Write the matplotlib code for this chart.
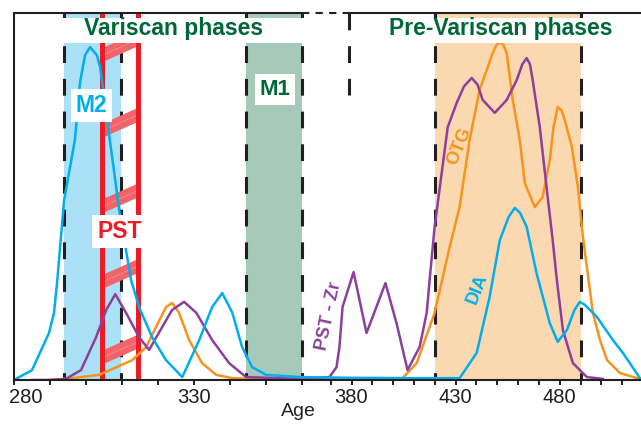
import numpy as np
import matplotlib
matplotlib.use("Agg")
import matplotlib.pyplot as plt
from matplotlib.patches import Rectangle, Polygon
from matplotlib.transforms import ScaledTranslation

plt.rcParams['font.family'] = ['Liberation Sans', 'DejaVu Sans']

# age values (Ma), relative density 0..1
blue_age = [280, 285, 289.7, 291.1, 292, 293.9, 296.9, 298.3, 299.7, 301.1, 303, 303.9, 306.6,
            309.2, 312.5, 314.7, 318.3, 322.2, 326.7, 331.4, 335, 337.8, 340.6, 343.3, 346.1,
            350, 359, 380, 410, 429.5, 431.9, 440.1, 446.3, 451.2, 455.5, 458.4, 461, 464.1,
            468.9, 475.2, 479, 483.4, 487, 489.6, 492, 497.8, 505.5, 510.3, 518.5]
blue_val = [0, .027, .128, .183, .27, .49, .654, .809, .885, .907, .885, .853, .654,
            .463, .272, .199, .117, .054, .008, .109, .199, .237, .183, .09, .035,
            .014, .008, .006, .005, .005, .005, .074, .226, .381, .445, .469, .455, .417,
            .29, .155, .104, .136, .19, .213, .205, .172, .109, .074, .005]

orange_age = [290, 294.4, 303.6, 312.8, 316.7, 319.4, 322.2, 323.9, 325.8, 328.6, 332.2, 336.1,
              340.6, 350, 370, 395, 404.5, 411.3, 419.9, 427.1, 431.9, 436.7, 441.5, 447.8,
              449.5, 451.2, 453, 454.5, 457.4, 460.8, 463.2, 468, 471.8, 475.2, 477, 479,
              480.8, 482.4, 485.8, 488.7, 491.1, 495.9, 499.3, 502.7, 508.9, 517.1, 519]
orange_val = [0, .003, .014, .054, .09, .144, .199, .21, .183, .109, .046, .014,
              .005, .003, .003, .003, .005, .046, .183, .362, .471, .654, .79, .891,
              .912, .921, .912, .891, .763, .654, .537, .471, .499, .6, .69, .744,
              .735, .708, .635, .526, .39, .183, .109, .054, .019, .005, .004]

purple_age = [285, 289.7, 294.4, 298.6, 302.8, 305.6, 308.1, 311.1, 314.7, 317.5, 321.1, 323.9,
              327.2, 330.6, 335, 339.7, 344.4, 359.2, 369.4, 372.8, 374.2, 375.7, 381, 387.2,
              396.3, 401.6, 406.9, 412.7, 416.1, 417.5, 419.9, 423.3, 426.2, 430.5, 434,
              437.7, 440.5, 443, 448.8, 454.5, 459.3, 462, 464.1, 465.7, 467, 470.4, 473.8,
              476.6, 478.6, 481.5, 486.3, 493, 500.7]
purple_val = [0, 0, .003, .027, .117, .191, .234, .183, .117, .082, .144, .191,
              .213, .183, .109, .046, .008, .003, .008, .035, .09, .199, .294, .128,
              .264, .155, .027, .09, .183, .272, .417, .564, .689, .755, .80,
              .823, .805, .763, .728, .763, .817, .86, .877, .86, .817, .689, .518,
              .381, .272, .136, .046, .008, .003]

# phases (age ranges)
m2_range = (293.9, 309.7)
m1_range = (344.4, 359.9)
pre_range = (419.9, 490.1)
pst_range = (304.3, 314.3)
break_age = 379.0

major_ticks = [280, 330, 380, 430, 480]
minor_ticks = [a for a in range(290, 520, 10) if a not in major_ticks]

# broken axis: compressed scale above 365 Ma
BRK = 365.0
R = 0.578


def fwd(a):
    a = np.asarray(a, dtype=float)
    return np.where(a < BRK, a, BRK + (a - BRK) * R)


def inv(u):
    u = np.asarray(u, dtype=float)
    return np.where(u < BRK, u, BRK + (u - BRK) / R)


CYAN = '#00aeef'
ORANGE = '#f7941d'
PURPLE = '#8e3f9d'
RED = '#ed1c24'
GREEN = '#006838'

fig = plt.figure(figsize=(6.41, 4.24), dpi=100)
ax = fig.add_axes([14 / 641, 1 - 380 / 424, 627 / 641, 367 / 424])
ax.set_xscale('function', functions=(fwd, inv))
ax.set_xlim(280, 519)
ax.set_ylim(0, 1)
tr = ax.get_xaxis_transform()

# shaded phases
ax.axvspan(*m2_range, color='#abe1f6', lw=0, zorder=0.5)
ax.axvspan(*m1_range, color='#a6cab9', lw=0, zorder=0.5)
ax.axvspan(*pre_range, color='#fad9b0', lw=0, zorder=0.5)

dash = (0, (5.5, 5.2))
for a in [*m2_range, *m1_range, *pre_range]:
    ax.plot([a, a], [1, 0], transform=tr, color='#231f20', lw=2.2, ls=dash, zorder=1)
ax.plot([break_age, break_age], [1, 0.777], transform=tr, color='#231f20', lw=2.2, ls=dash,
        zorder=1)

# PST hatch stripes
for c in np.arange(0.06, 0.95, 0.206):
    poly = Polygon([(pst_range[0], c - 0.019), (pst_range[1], c + 0.025),
                    (pst_range[1], c + 0.063), (pst_range[0], c + 0.019)],
                   closed=True, transform=tr, facecolor='#f0646a', lw=0, zorder=1.5)
    ax.add_patch(poly)
    ax.plot(pst_range, [c, c + 0.044], transform=tr, color='white', lw=0.5, alpha=0.6,
            ls=(0, (2, 2)), zorder=1.6)
for a in pst_range:
    ax.axvline(a, color=RED, lw=3.6, zorder=2)

# curves
ax.plot(orange_age, orange_val, color=ORANGE, lw=1.8, zorder=3, solid_joinstyle='round')
ax.plot(purple_age, purple_val, color=PURPLE, lw=1.8, zorder=3.1, solid_joinstyle='round')
ax.plot(blue_age, blue_val, color=CYAN, lw=1.8, zorder=3.2, solid_joinstyle='round')

# white boxes behind phase titles
ax.add_patch(Rectangle((289, 0.918), 361.5 - 289, 0.068, transform=tr, facecolor='white',
                       lw=0, zorder=4))
ax.add_patch(Rectangle((388, 0.918), 512 - 388, 0.068, transform=tr, facecolor='white',
                       lw=0, zorder=4))

ax.text(324.3, 0.940, 'Variscan phases', color=GREEN, fontsize=16.5, fontweight='bold',
        ha='center', va='baseline', zorder=5)
ax.text(451.5, 0.940, 'Pre-Variscan phases', color=GREEN, fontsize=16.5, fontweight='bold',
        ha='center', va='baseline', zorder=5)

box = dict(boxstyle='square,pad=0.22', facecolor='white', edgecolor='none')
ax.text(301.5, 0.730, 'M2', color=CYAN, fontsize=16.5, fontweight='bold', ha='center',
        va='baseline', bbox=box, zorder=5)
ax.text(352.4, 0.777, 'M1', color=GREEN, fontsize=16, fontweight='bold', ha='center',
        va='baseline', bbox=box, zorder=5)
ax.text(309.3, 0.387, 'PST', color=RED, fontsize=16.5, fontweight='bold', ha='center',
        va='baseline', bbox=box, zorder=5)

ax.text(431.8, 0.637, 'OTG', color=ORANGE, fontsize=13, fontweight='bold', rotation=68,
        ha='center', va='center', rotation_mode='anchor', zorder=5)
ax.text(440.3, 0.248, 'DIA', color=CYAN, fontsize=13, fontweight='bold', rotation=68,
        ha='center', va='center', rotation_mode='anchor', zorder=5)
ax.text(369.3, 0.174, 'PST - Zr', color=PURPLE, fontsize=13, fontweight='bold', rotation=78,
        ha='center', va='center', rotation_mode='anchor', zorder=5)

# axes frame with break on top
for s in ['top', 'right']:
    ax.spines[s].set_visible(False)
for s in ['left', 'bottom']:
    ax.spines[s].set_linewidth(1.5)
    ax.spines[s].set_color('#231f20')
    ax.spines[s].set_zorder(6)
ax.plot([280, 360], [1, 1], transform=tr, color='#231f20', lw=1.5, zorder=6, clip_on=False)
ax.plot([360, break_age], [1, 1], transform=tr, color='#231f20', lw=1.5, ls=(0, (3.5, 3)),
        zorder=6, clip_on=False)
ax.plot([break_age, 519], [1, 1], transform=tr, color='#231f20', lw=1.5, zorder=6,
        clip_on=False)

ax.set_yticks([])
ax.set_xticks(major_ticks)
ax.set_xticks(minor_ticks, minor=True)
ax.set_xticklabels([str(t) for t in major_ticks])
ax.tick_params(axis='x', which='both', direction='out', length=3.6, width=1.4,
               color='#231f20', labelsize=14.5, labelcolor='#231f20', pad=2.5)
# first label sits a little to the right of its tick, inside the figure
first = ax.get_xticklabels()[0]
first.set_transform(first.get_transform() + ScaledTranslation(11.5 / 100, 0, fig.dpi_scale_trans))
ax.set_xlabel('Age', fontsize=14, color='#231f20')
ax.xaxis.set_label_coords(0.453, -0.063)

fig.savefig('out.png', dpi=100)
